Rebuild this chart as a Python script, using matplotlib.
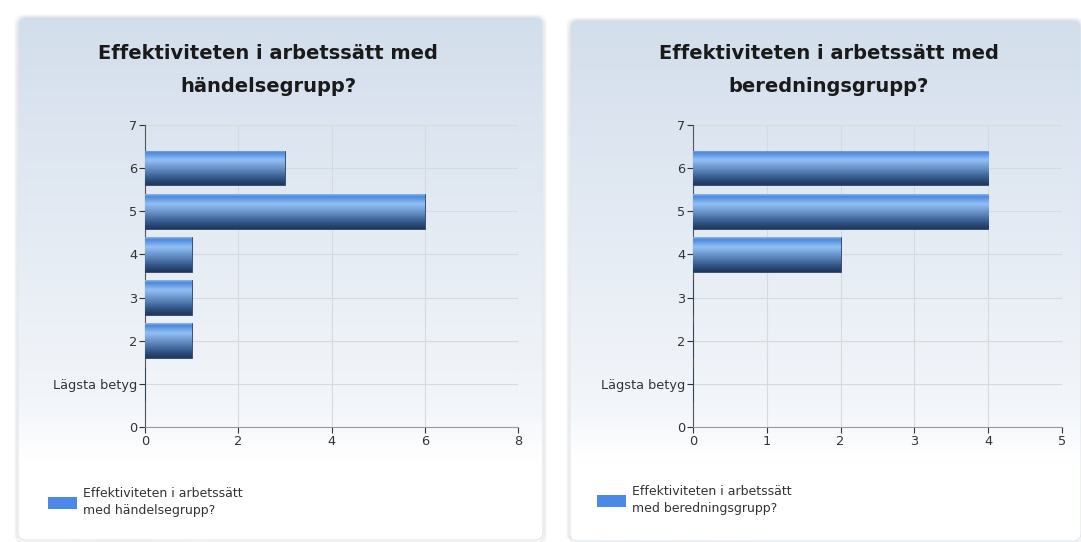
import matplotlib
matplotlib.use("Agg")
import matplotlib.pyplot as plt
import numpy as np
from matplotlib.patches import FancyBboxPatch, Rectangle
from matplotlib.colors import LinearSegmentedColormap

# data
rating_pos = [1, 2, 3, 4, 5, 6]
y_tick_labels = ["0", "Lägsta betyg", "2", "3", "4", "5", "6", "7"]
left_title = "Effektiviteten i arbetssätt med\nhändelsegrupp?"
left_legend = "Effektiviteten i arbetssätt\nmed händelsegrupp?"
left_counts = [0, 1, 1, 1, 6, 3]
left_xticks = [0, 2, 4, 6, 8]
right_title = "Effektiviteten i arbetssätt med\nberedningsgrupp?"
right_legend = "Effektiviteten i arbetssätt\nmed beredningsgrupp?"
right_counts = [0, 0, 0, 2, 4, 4]
right_xticks = [0, 1, 2, 3, 4, 5]

W, H = 1081, 542
fig = plt.figure(figsize=(W / 100, H / 100), dpi=100)
fig.patch.set_facecolor("white")

bg = fig.add_axes([0, 0, 1, 1])
bg.set_xlim(0, W)
bg.set_ylim(H, 0)
bg.axis("off")

card_cmap = LinearSegmentedColormap.from_list(
    "card", [(0, "#d3deec"), (0.75, "#f3f6fa"), (0.85, "#ffffff"), (1, "#ffffff")])
bar_cmap = LinearSegmentedColormap.from_list(
    "bar", [(0, "#8cbaf2"), (0.07, "#4c88dc"), (0.28, "#92c0f5"), (0.5, "#6b96cc"),
            (0.8, "#34588a"), (1, "#1e3658")])

def card(x0, y0, x1, y1):
    # soft shadow
    for i, a in enumerate([0.05, 0.035, 0.02]):
        sh = FancyBboxPatch((x0 - i - 1, y0 - i), x1 - x0 + 2 * i + 2, y1 - y0 + 2 * i + 2,
                            boxstyle="round,pad=0,rounding_size=8", fc="none",
                            ec=(0, 0, 0, a), lw=1.2)
        bg.add_patch(sh)
    p = FancyBboxPatch((x0, y0), x1 - x0, y1 - y0, boxstyle="round,pad=0,rounding_size=8",
                       fc="none", ec="#e2e6ea", lw=0.8, zorder=2)
    bg.add_patch(p)
    grad = np.linspace(0, 1, 256).reshape(-1, 1)
    im = bg.imshow(grad, cmap=card_cmap, extent=(x0, x1, y1, y0), aspect="auto", zorder=1)
    im.set_clip_path(p)

card(18, 17, 543, 540)
card(570, 20, 1081, 541)
bg.set_xlim(0, W)
bg.set_ylim(H, 0)

def panel(rect, counts, xticks, title, legend_text, title_x, leg_x, leg_y):
    ax = fig.add_axes(rect)
    ax.set_facecolor("none")
    bars = ax.barh(rating_pos, counts, height=0.8, color="#4a86d8", edgecolor="#2a4060",
                   linewidth=0.6, zorder=3)
    grad = np.linspace(0, 1, 256).reshape(-1, 1)
    for b, v, y in zip(bars, counts, rating_pos):
        if v <= 0:
            continue
        im = ax.imshow(grad, cmap=bar_cmap, extent=(0, v, y - 0.4, y + 0.4),
                       aspect="auto", origin="upper", zorder=3.5)
        im.set_clip_path(b)
    ax.set_xlim(xticks[0], xticks[-1])
    ax.set_ylim(0, 7)
    ax.set_xticks(xticks)
    ax.set_yticks(range(8))
    ax.set_yticklabels(y_tick_labels)
    for s in ["top", "right"]:
        ax.spines[s].set_visible(False)
    ax.spines["left"].set_color("#555555")
    ax.spines["bottom"].set_color("#999999")
    ax.grid(True, color="#d6d9dd", lw=0.8, zorder=0)
    ax.set_axisbelow(True)
    ax.tick_params(labelsize=9.3, colors="#333333", length=4, width=0.8)
    ax.tick_params(axis="y", pad=1.5)
    ax.tick_params(axis="x", pad=2)
    fig.text(title_x / W, 1 - 70 / H, title, ha="center", va="center", fontsize=14,
             fontweight="bold", family="DejaVu Sans", color="#1a1a1a", linespacing=1.95)
    bg.add_patch(Rectangle((leg_x, leg_y), 29, 12, fc="#4a8ae6", ec="none", zorder=5))
    bg.text(leg_x + 35, leg_y + 5, legend_text, ha="left", va="center", fontsize=9,
            family="DejaVu Sans", color="#333333", zorder=5, linespacing=1.35)
    return ax

panel([145 / W, 1 - 427 / H, 373 / W, 302 / H], left_counts, left_xticks, left_title,
      left_legend, 268, 48, 497)
panel([693 / W, 1 - 427 / H, 369 / W, 302 / H], right_counts, right_xticks, right_title,
      right_legend, 829, 597, 495)

fig.savefig("out.png", dpi=100)
